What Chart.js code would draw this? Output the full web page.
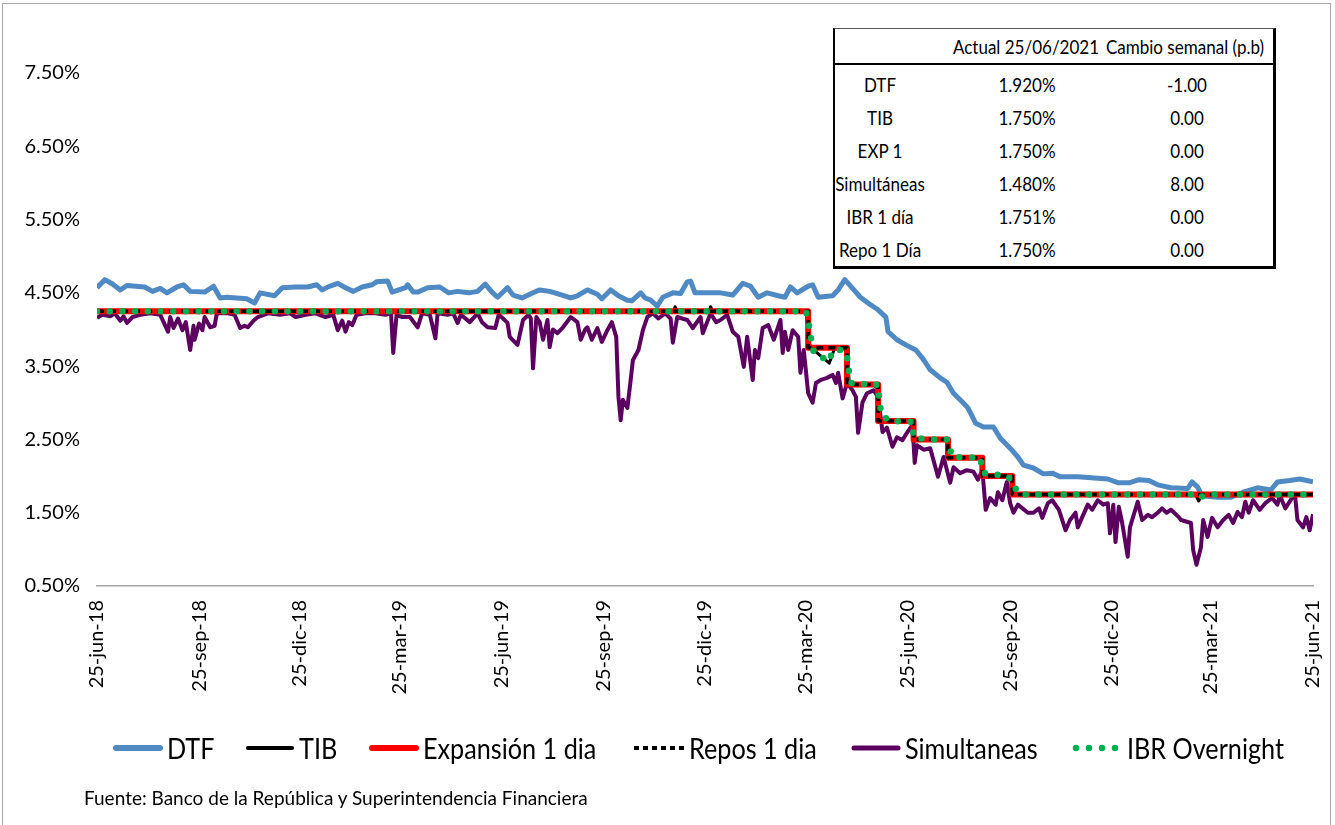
<!DOCTYPE html>
<html>
<head>
<meta charset="utf-8">
<script src="https://cdn.jsdelivr.net/npm/chart.js@4.4.0/dist/chart.umd.min.js"></script>
<style>
  body { margin: 0; background: #fff; }
  #page { position: relative; width: 1335px; height: 825px; overflow: hidden; background: #fff; }
  #frame { position: absolute; left: 2px; top: 3px; width: 1329px; height: 900px; border: 1.5px solid #aaa; box-sizing: border-box; }
  #chart { position: absolute; left: 0; top: 0; }
  .txt { font-family: Lato, "Open Sans", sans-serif; color: #000; }
  #tbl { position: absolute; left: 833px; top: 28px; width: 443px; height: 241px; background: #fff;
         border-top: 1px solid #555; border-left: 2px solid #000; border-right: 3px solid #000; border-bottom: 3px solid #000; box-sizing: border-box; }
  #tbl .sep { position: absolute; left: 0; right: 0; top: 34px; border-top: 2px solid #000; }
  #tbl .cell { position: absolute; transform: translate(-50%, -50%) scaleX(0.92); white-space: nowrap; font-size: 18.5px; }
  .item { position: absolute; top: 730px; height: 36px; display: flex; align-items: center; white-space: nowrap; font-size: 28px; }
  .item svg { margin-right: 3px; }
  .item span { display: inline-block; transform: scaleX(0.9); transform-origin: left center; }
  #source { position: absolute; left: 84px; top: 786px; font-size: 19px; white-space: nowrap; }
</style>
</head>
<body>
<div id="page">
  <div id="frame"></div>
  <canvas id="chart" width="1335" height="825"></canvas>
  <div id="tbl" class="txt"><div class="sep"></div></div>
  <div id="legend" class="txt"></div>
  <div id="source" class="txt">Fuente: Banco de la República y Superintendencia Financiera</div>
</div>
<script>
// eje x: días desde 25-jun-18
const tickDates = ['2018-06-25', '2018-09-25', '2018-12-25', '2019-03-25', '2019-06-25', '2019-09-25', '2019-12-25',
  '2020-03-25', '2020-06-25', '2020-09-25', '2020-12-25', '2021-03-25', '2021-06-25'];
const tickLabels = ['25-jun-18', '25-sep-18', '25-dic-18', '25-mar-19', '25-jun-19', '25-sep-19', '25-dic-19',
  '25-mar-20', '25-jun-20', '25-sep-20', '25-dic-20', '25-mar-21', '25-jun-21'];
const yTicks = [0.5, 1.5, 2.5, 3.5, 4.5, 5.5, 6.5, 7.5];

const dtfDays = [0, 7, 14, 21, 27, 43, 50, 57, 63, 72,
  78, 84, 97, 105, 111, 117, 135, 142, 147, 160,
  167, 179, 190, 198, 203, 208, 217, 224, 231, 239,
  248, 252, 262, 266, 278, 280, 285, 289, 298, 309,
  317, 325, 335, 343, 350, 356, 361, 370, 375, 383,
  393, 399, 408, 417, 427, 433, 442, 451, 455, 463,
  470, 478, 482, 490, 494, 499, 505, 510, 519, 526,
  532, 535, 539, 553, 562, 573, 582, 589, 596, 604,
  614, 620, 625, 631, 641, 645, 650, 663, 668, 674,
  681, 688, 695, 703, 711, 713, 721, 729, 738, 744,
  751, 760, 766, 772, 780, 785, 792, 799, 808, 814,
  823, 830, 835, 844, 853, 861, 868, 884, 911, 920,
  931, 939, 948, 956, 968, 983, 987, 992, 996, 1010,
  1022, 1033, 1046, 1058, 1064, 1075, 1084, 1096];
const dtfRates = [4.57, 4.68, 4.62, 4.54, 4.60, 4.58, 4.52, 4.56, 4.50, 4.58,
  4.61, 4.52, 4.51, 4.59, 4.43, 4.44, 4.42, 4.36, 4.50, 4.46,
  4.57, 4.58, 4.58, 4.61, 4.54, 4.58, 4.63, 4.57, 4.52, 4.58,
  4.61, 4.65, 4.66, 4.51, 4.57, 4.61, 4.51, 4.51, 4.57, 4.58,
  4.50, 4.52, 4.50, 4.52, 4.62, 4.51, 4.44, 4.57, 4.47, 4.43,
  4.50, 4.54, 4.52, 4.48, 4.43, 4.46, 4.54, 4.48, 4.42, 4.54,
  4.46, 4.40, 4.39, 4.50, 4.43, 4.40, 4.32, 4.44, 4.50, 4.49,
  4.65, 4.66, 4.50, 4.50, 4.50, 4.47, 4.63, 4.59, 4.44, 4.50,
  4.46, 4.44, 4.58, 4.50, 4.59, 4.61, 4.44, 4.46, 4.54, 4.68,
  4.56, 4.44, 4.36, 4.28, 4.17, 3.97, 3.86, 3.79, 3.72, 3.61,
  3.45, 3.34, 3.28, 3.13, 3.01, 2.93, 2.72, 2.67, 2.67, 2.52,
  2.38, 2.26, 2.15, 2.11, 2.03, 2.04, 1.99, 1.99, 1.96, 1.91,
  1.91, 1.95, 1.94, 1.88, 1.84, 1.83, 1.92, 1.85, 1.73, 1.71,
  1.71, 1.78, 1.84, 1.81, 1.92, 1.94, 1.96, 1.92];

const simDays = [0, 5, 12, 16, 21, 24, 27, 32, 39, 48,
  57, 64, 66, 69, 73, 77, 80, 84, 87, 88,
  92, 95, 97, 102, 106, 108, 118, 124, 129, 133,
  136, 141, 145, 154, 165, 174, 179, 188, 197, 206,
  213, 217, 221, 224, 227, 230, 234, 242, 251, 260,
  265, 267, 270, 275, 282, 289, 293, 300, 305, 307,
  316, 321, 325, 328, 336, 343, 347, 352, 359, 362,
  366, 370, 372, 379, 384, 389, 391, 393, 396, 399,
  402, 406, 408, 411, 415, 420, 427, 433, 436, 440,
  442, 446, 451, 455, 460, 464, 468, 470, 472, 474,
  478, 481, 483, 488, 492, 496, 501, 506, 512, 517,
  519, 523, 532, 537, 544, 546, 553, 558, 562, 568,
  573, 578, 583, 586, 591, 593, 596, 600, 605, 610,
  616, 618, 620, 623, 627, 632, 634, 637, 641, 645,
  648, 652, 658, 663, 666, 668, 672, 676, 681, 684,
  686, 690, 694, 700, 704, 708, 712, 717, 721, 726,
  730, 735, 737, 739, 745, 751, 758, 763, 769, 772,
  778, 784, 790, 794, 798, 801, 805, 810, 812, 816,
  820, 823, 826, 830, 839, 844, 849, 852, 857, 861,
  867, 873, 877, 882, 884, 888, 893, 897, 902, 907,
  911, 913, 916, 918, 921, 924, 929, 931, 938, 942,
  947, 951, 956, 960, 964, 968, 975, 977, 986, 988,
  991, 995, 997, 1001, 1005, 1010, 1015, 1020, 1024, 1028,
  1032, 1035, 1038, 1042, 1048, 1053, 1059, 1064, 1066, 1071,
  1077, 1080, 1082, 1087, 1090, 1093, 1096];
const simRates = [4.16, 4.20, 4.18, 4.22, 4.12, 4.18, 4.09, 4.17, 4.20, 4.22,
  4.20, 3.97, 4.17, 4.02, 4.15, 3.99, 4.10, 3.72, 4.05, 3.86,
  4.08, 3.99, 4.17, 4.03, 4.05, 4.22, 4.22, 4.20, 4.02, 4.05,
  4.03, 4.12, 4.17, 4.22, 4.20, 4.22, 4.17, 4.20, 4.22, 4.17,
  4.20, 3.99, 4.12, 3.97, 4.10, 4.06, 4.20, 4.22, 4.22, 4.20,
  4.22, 3.68, 4.20, 4.17, 4.17, 4.03, 4.22, 4.20, 3.88, 4.22,
  4.20, 4.22, 4.09, 4.20, 4.10, 4.22, 4.10, 4.03, 4.02, 4.20,
  4.15, 4.09, 3.90, 3.79, 4.13, 4.20, 4.15, 3.47, 4.17, 4.10,
  3.86, 4.13, 3.76, 4.00, 3.95, 4.03, 4.17, 4.10, 3.86, 4.00,
  4.03, 3.86, 4.02, 3.83, 3.99, 4.10, 3.90, 3.08, 2.76, 3.04,
  2.93, 3.31, 3.58, 3.72, 3.99, 4.17, 4.22, 4.15, 4.22, 4.15,
  3.82, 4.17, 4.13, 4.02, 4.17, 3.95, 4.22, 4.10, 4.13, 4.20,
  3.97, 3.90, 3.49, 3.90, 3.31, 3.72, 3.61, 4.02, 4.06, 3.86,
  4.13, 3.68, 3.97, 3.72, 3.99, 3.90, 3.41, 3.72, 3.13, 3.00,
  3.27, 3.31, 3.34, 3.38, 3.27, 3.41, 3.06, 3.27, 3.17, 3.08,
  2.59, 3.01, 3.13, 3.17, 3.08, 2.60, 2.66, 2.40, 2.53, 2.49,
  2.59, 2.70, 2.18, 2.42, 2.36, 2.38, 1.99, 2.26, 1.91, 2.12,
  2.04, 2.08, 2.06, 1.95, 2.08, 1.54, 1.70, 1.61, 1.78, 1.67,
  1.92, 1.63, 1.50, 1.61, 1.50, 1.50, 1.56, 1.43, 1.63, 1.67,
  1.54, 1.26, 1.40, 1.50, 1.30, 1.44, 1.61, 1.54, 1.67, 1.61,
  1.63, 1.22, 1.61, 1.10, 1.58, 1.36, 0.90, 1.30, 1.65, 1.40,
  1.47, 1.44, 1.50, 1.56, 1.50, 1.54, 1.44, 1.40, 1.36, 0.99,
  0.79, 1.03, 1.40, 1.17, 1.43, 1.30, 1.40, 1.47, 1.36, 1.51,
  1.44, 1.65, 1.50, 1.67, 1.54, 1.63, 1.70, 1.61, 1.74, 1.56,
  1.70, 1.71, 1.40, 1.30, 1.44, 1.26, 1.48];

// tasa de intervención (escalones)
const policyDays = [0, 641, 676, 704, 736, 767, 798, 825, 1096];
const expRates = [4.25, 3.75, 3.25, 2.75, 2.50, 2.25, 2.00, 1.75, 1.75];
const reposRates = [4.25, 3.75, 3.25, 2.75, 2.50, 2.25, 2.00, 1.75, 1.75];

const tibDays = [0, 520, 521, 523, 552, 553, 555, 639, 642, 646, 660, 665, 676, 678, 700, 703, 704, 706,
  735, 736, 766, 767, 797, 798, 824, 826, 990, 993, 996, 1096];
const tibRates = [4.25, 4.25, 4.31, 4.25, 4.25, 4.31, 4.25, 4.25, 3.80, 3.72, 3.54, 3.75, 3.75, 3.27, 3.25, 3.20, 3.20, 2.78,
  2.75, 2.50, 2.50, 2.25, 2.25, 2.00, 2.00, 1.75, 1.75, 1.66, 1.75, 1.75];

const ibrDays = [0, 639, 641, 643, 646, 651, 659, 664, 673, 677, 678, 680, 688, 698, 704, 705, 707, 715,
  735, 736, 748, 766, 771, 796, 799, 821, 825, 830, 833, 990, 993, 998, 1001, 1096];
const ibrRates = [4.25, 4.25, 4.13, 3.92, 3.69, 3.65, 3.56, 3.72, 3.72, 3.58, 3.35, 3.27, 3.27, 3.23, 3.25, 3.06, 2.83, 2.75,
  2.74, 2.53, 2.50, 2.50, 2.26, 2.25, 2.04, 2.00, 1.91, 1.77, 1.75, 1.75, 1.71, 1.73, 1.75, 1.75];

// tabla
const tableHead = ['Actual 25/06/2021', 'Cambio semanal (p.b)'];
const tableNames = ['DTF', 'TIB', 'EXP 1', 'Simultáneas', 'IBR 1 día', 'Repo 1 Día'];
const tableActual = ['1.920%', '1.750%', '1.750%', '1.480%', '1.751%', '1.750%'];
const tableCambio = ['-1.00', '0.00', '0.00', '8.00', '0.00', '0.00'];

const DAY = 86400000;
const t0 = Date.parse(tickDates[0]);
const tickDays = tickDates.map(d => Math.round((Date.parse(d) - t0) / DAY));

function pts(xs, ys) {
  return xs.map((x, i) => ({ x: x, y: ys[i] }));
}

const series = [
  { label: 'DTF', data: pts(dtfDays, dtfRates), borderColor: '#4F8AC4', borderWidth: 5, order: 5,
    legend: { w: 6, dash: '', cap: 'round' } },
  { label: 'TIB', data: pts(tibDays, tibRates), borderColor: '#000000', borderWidth: 3, order: 3,
    legend: { w: 4, dash: '', cap: 'round' } },
  { label: 'Expansión 1 dia', data: pts(policyDays, expRates), borderColor: '#FF0000', borderWidth: 6, stepped: 'before', order: 2,
    legend: { w: 6, dash: '', cap: 'round' } },
  { label: 'Repos 1 dia', data: pts(policyDays, reposRates), borderColor: '#000000', borderWidth: 3.5, borderDash: [7, 5], stepped: 'before', order: 1,
    legend: { w: 4, dash: '5 4', cap: 'butt' } },
  { label: 'Simultaneas', data: pts(simDays, simRates), borderColor: '#5C0060', borderWidth: 4, order: 4,
    legend: { w: 5, dash: '', cap: 'round' } },
  { label: 'IBR Overnight', data: pts(ibrDays, ibrRates), borderColor: '#00B050', borderWidth: 6.5, borderDash: [0, 12.7], borderCapStyle: 'round', order: 0,
    legend: { w: 6.5, dash: '0 13', cap: 'round' } },
];

const ctx = document.getElementById('chart').getContext('2d');
const chart = new Chart(ctx, {
  type: 'line',
  data: { datasets: series },
  options: {
    responsive: false,
    animation: false,
    layout: { padding: { left: 0, right: 22, top: 29, bottom: 0 } },
    elements: { point: { radius: 0 }, line: { tension: 0, borderJoinStyle: 'round' } },
    plugins: { legend: { display: false }, tooltip: { enabled: false } },
    scales: {
      x: {
        type: 'linear', min: 0, max: 1096,
        grid: { display: false, drawTicks: false },
        border: { display: true, color: '#a6a6a6', width: 1.5 },
        afterBuildTicks: s => { s.ticks = tickDays.map(v => ({ value: v })); },
        afterFit: s => { s.height = 239; s.paddingLeft = 0; s.paddingRight = 0; },
        ticks: {
          autoSkip: false, minRotation: 90, maxRotation: 90, padding: 14, color: '#000',
          font: { family: 'Lato', size: 20 },
          callback: (v, i) => tickLabels[i]
        }
      },
      y: {
        min: 0.5, max: 8.1,
        grid: { display: false, drawTicks: false },
        border: { display: false },
        afterBuildTicks: s => { s.ticks = yTicks.map(v => ({ value: v })); },
        afterFit: s => { s.width = 97; s.paddingTop = 0; s.paddingBottom = 0; },
        ticks: {
          padding: 17, color: '#000',
          font: { family: 'Lato', size: 20 },
          callback: v => v.toFixed(2) + '%'
        }
      }
    }
  }
});

// leyenda (posición de cada muestra de línea)
const legendLeft = [112, 244, 368, 634, 850, 1072];
const legend = document.getElementById('legend');
series.forEach((s, i) => {
  const item = document.createElement('div');
  item.className = 'item';
  item.style.left = legendLeft[i] + 'px';
  const dash = s.legend.dash ? ' stroke-dasharray="' + s.legend.dash + '"' : '';
  const pad = s.legend.cap === 'round' ? 4 : 0;
  item.innerHTML = '<svg width="52" height="12"><line x1="' + pad + '" y1="6" x2="' + (52 - pad) + '" y2="6" stroke="' + s.borderColor +
    '" stroke-width="' + s.legend.w + '" stroke-linecap="' + s.legend.cap + '"' + dash + '/></svg><span>' + s.label + '</span>';
  legend.appendChild(item);
});

// tabla de valores
const tbl = document.getElementById('tbl');
function cell(text, x, y) {
  const d = document.createElement('div');
  d.className = 'cell';
  d.style.left = x + 'px';
  d.style.top = y + 'px';
  d.textContent = text;
  tbl.appendChild(d);
}
cell(tableHead[0], 191, 18);
cell(tableHead[1], 350, 18);
tableNames.forEach((n, i) => {
  const y = 56 + i * 33;
  cell(n, 45, y);
  cell(tableActual[i], 192, y);
  cell(tableCambio[i], 352, y);
});
</script>
</body>
</html>
